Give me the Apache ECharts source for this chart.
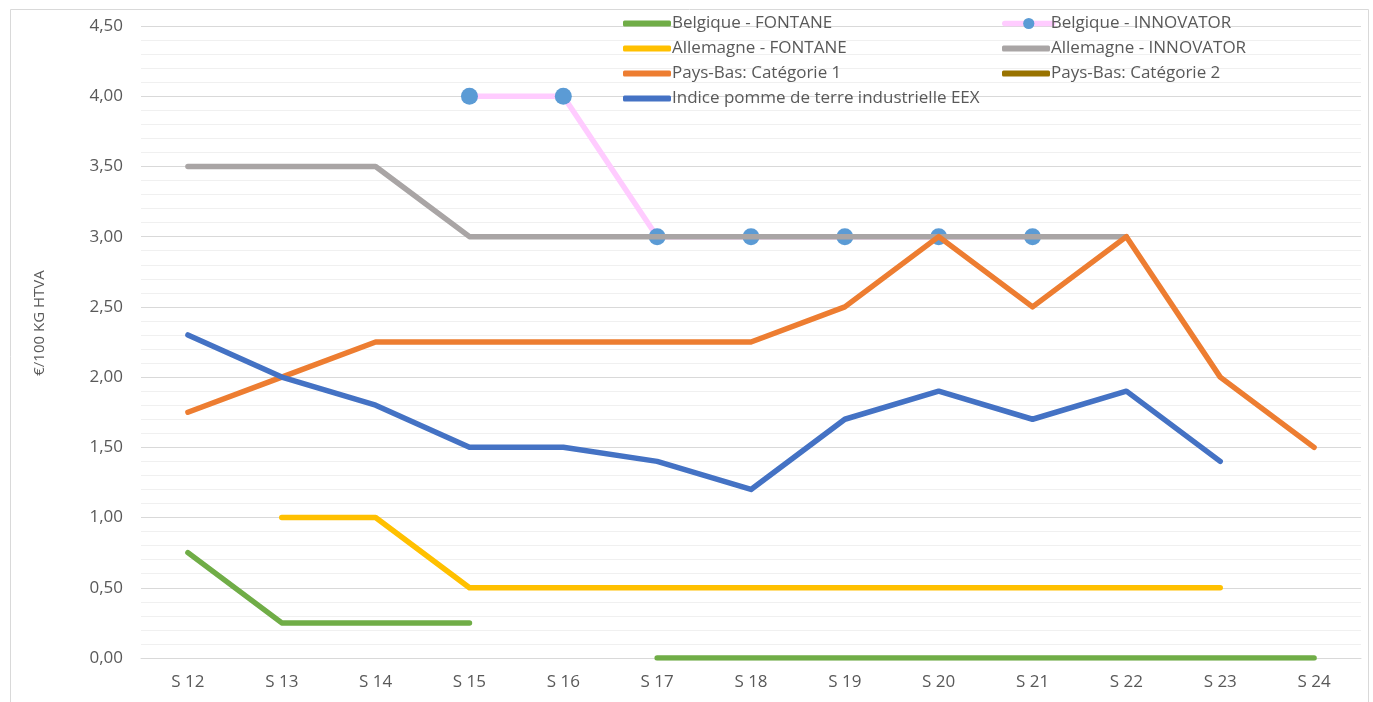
<!DOCTYPE html>
<html>
<head>
<meta charset="utf-8">
<script src="https://cdn.jsdelivr.net/npm/echarts@6/dist/echarts.min.js"></script>
<style>
html,body{margin:0;padding:0;background:#fff;}
#c{width:1373px;height:702px;}
</style>
</head>
<body>
<div id="c"></div>
<script>
const categories = ['S 12','S 13','S 14','S 15','S 16','S 17','S 18','S 19','S 20','S 21','S 22','S 23','S 24'];
const belgiqueFontane   = [0.75, 0.25, 0.25, 0.25, null, 0, 0, 0, 0, 0, 0, 0, 0];
const belgiqueInnovator = [null, null, null, 4, 4, 3, 3, 3, 3, 3, null, null, null];
const allemagneFontane  = [null, 1, 1, 0.5, 0.5, 0.5, 0.5, 0.5, 0.5, 0.5, 0.5, 0.5, null];
const allemagneInnovator= [3.5, 3.5, 3.5, 3, 3, 3, 3, 3, 3, 3, 3, null, null];
const paysBasCat1       = [1.75, 2, 2.25, 2.25, 2.25, 2.25, 2.25, 2.5, 3, 2.5, 3, 2, 1.5];
const paysBasCat2       = [null, null, null, null, null, null, null, null, null, null, null, null, null];
const indiceEEX         = [2.3, 2.0, 1.8, 1.5, 1.5, 1.4, 1.2, 1.7, 1.9, 1.7, 1.9, 1.4, null];
const seriesNames = ['Belgique - FONTANE','Belgique - INNOVATOR','Allemagne - FONTANE','Allemagne - INNOVATOR','Pays-Bas: Catégorie 1','Pays-Bas: Catégorie 2','Indice pomme de terre industrielle EEX'];
const yTicks = { min: 0, max: 4.5, interval: 0.5 };

const FONT = '"Open Sans", sans-serif';
const TXT = '#595959';
const LW = 5.5;
const chart = echarts.init(document.getElementById('c'), null, {renderer:'canvas'});

function line(name, data, color, z, extra) {
  return Object.assign({
    name, type: 'line', data, z,
    symbol: 'none', connectNulls: false,
    lineStyle: { color, width: LW, cap: 'round', join: 'round' },
    itemStyle: { color },
    emphasis: { disabled: true },
    animation: false
  }, extra || {});
}

const legendText = { color: TXT, fontSize: 17, fontFamily: FONT, padding: [0, 0, 0, -4] };
function barLegend(names, left, top) {
  return {
    data: names.map(n => ({ name: n, icon: 'roundRect' })),
    orient: 'vertical', left, top, padding: 0,
    itemWidth: 48, itemHeight: 6, itemGap: 8,
    textStyle: legendText, selectedMode: false
  };
}

chart.setOption({
  animation: false,
  textStyle: { fontFamily: FONT },
  grid: { left: 141, right: 12, top: 26, bottom: 44, containLabel: false },
  graphic: [
    { type: 'rect', shape: { x: 10.5, y: 9.5, width: 1358, height: 700 }, style: { fill: 'none', stroke: '#d9d9d9', lineWidth: 1 }, z: -1 },
    { type: 'text', x: 40, y: 323, rotation: Math.PI / 2,
      style: { text: '€/100 KG HTVA', fill: TXT, font: '15px ' + FONT, textAlign: 'center', textVerticalAlign: 'middle' } }
  ],
  legend: [
    barLegend([seriesNames[0], seriesNames[2], seriesNames[4], seriesNames[6]], 623, 15),
    {
      data: [seriesNames[1]], orient: 'vertical', left: 1002, top: 15, padding: 0,
      itemWidth: 48, itemHeight: 14, itemGap: 8,
      lineStyle: { width: LW, cap: 'round' },
      textStyle: Object.assign({}, legendText, { padding: [0, 0, 0, -7] }), selectedMode: false
    },
    barLegend([seriesNames[3], seriesNames[5]], 1002, 40)
  ],
  xAxis: {
    type: 'category', data: categories, boundaryGap: true,
    axisLine: { show: true, lineStyle: { color: '#d9d9d9', width: 1 } },
    axisTick: { show: false },
    axisLabel: { color: TXT, fontSize: 17, fontFamily: FONT, margin: 16 },
    splitLine: { show: false }
  },
  yAxis: {
    type: 'value', min: yTicks.min, max: yTicks.max, interval: yTicks.interval,
    axisLine: { show: false }, axisTick: { show: false },
    axisLabel: { color: TXT, fontSize: 17, fontFamily: FONT, margin: 18,
      formatter: v => v.toFixed(2).replace('.', ',') },
    splitLine: { show: true, lineStyle: { color: '#d9d9d9', width: 1 } },
    minorTick: { show: false, splitNumber: 5 },
    minorSplitLine: { show: true, lineStyle: { color: '#f0f0f0', width: 1 } }
  },
  series: [
    line(seriesNames[0], belgiqueFontane, '#70AD47', 2),
    line(seriesNames[1], belgiqueInnovator, '#FFCCFF', 3, {
      symbol: 'circle', symbolSize: 17, showSymbol: true,
      itemStyle: { color: '#5B9BD5', borderWidth: 0 }
    }),
    line(seriesNames[2], allemagneFontane, '#FFC000', 4),
    line(seriesNames[3], allemagneInnovator, '#A9A5A5', 5),
    line(seriesNames[4], paysBasCat1, '#ED7D31', 6),
    line(seriesNames[5], paysBasCat2, '#997300', 7),
    line(seriesNames[6], indiceEEX, '#4472C4', 8)
  ]
});
</script>
</body>
</html>
